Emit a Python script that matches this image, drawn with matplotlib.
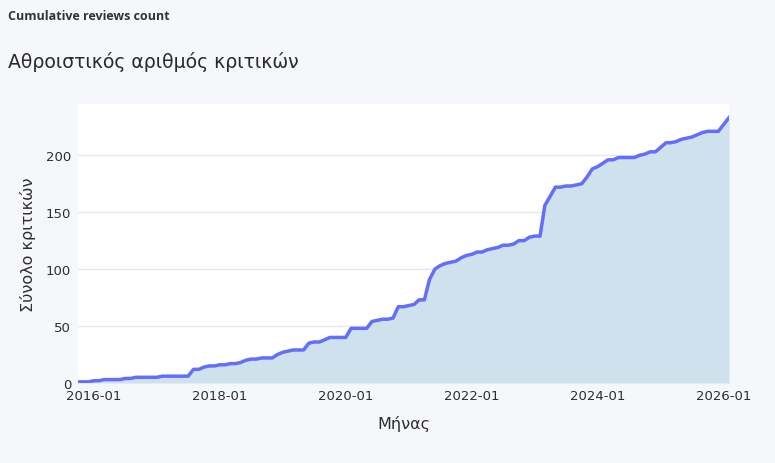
import matplotlib
matplotlib.use("Agg")
import matplotlib.pyplot as plt
import matplotlib.dates as mdates
import numpy as np
import pandas as pd

# monthly cumulative review counts, 2015-10 .. 2026-02
months = pd.date_range("2015-10-01", periods=125, freq="MS")
counts = [
    1, 1, 1, 2, 2, 3, 3, 3, 3, 4,
    4, 5, 5, 5, 5, 5, 6, 6, 6, 6,
    6, 6, 12, 12, 14, 15, 15, 16, 16, 17,
    17, 18, 20, 21, 21, 22, 22, 22, 25, 27,
    28, 29, 29, 29, 35, 36, 36, 38, 40, 40,
    40, 40, 48, 48, 48, 48, 54, 55, 56, 56,
    57, 67, 67, 68, 69, 73, 73, 91, 100, 103,
    105, 106, 107, 110, 112, 113, 115, 115, 117, 118,
    119, 121, 121, 122, 125, 125, 128, 129, 129, 156,
    164, 172, 172, 173, 173, 174, 175, 181, 188, 190,
    193, 196, 196, 198, 198, 198, 198, 200, 201, 203,
    203, 207, 211, 211, 212, 214, 215, 216, 218, 220,
    221, 221, 221, 227, 233,
]
yticks = [0, 50, 100, 150, 200]
xticks = pd.date_range("2016-01-01", "2026-01-01", freq="2YS")

W, H = 775, 464
fig = plt.figure(figsize=(W / 100, H / 100), dpi=100)
fig.patch.set_facecolor("#f6f7fb")

left, right, top, bottom = 78, 729, 105, 384
ax = fig.add_axes([left / W, 1 - bottom / H, (right - left) / W, (bottom - top) / H])
ax.set_facecolor("white")

x = mdates.date2num(months)
ax.fill_between(x, 0, counts, color="#d0e1ee", lw=0)
ax.plot(x, counts, color="#636efa", lw=2.5, solid_joinstyle="round")

ax.set_xlim(x[0], x[-1])
ax.set_ylim(0, 245)
ax.set_yticks(yticks)
ax.set_xticks(mdates.date2num(xticks))
ax.xaxis.set_major_formatter(mdates.DateFormatter("%Y-%m"))
ax.grid(axis="y", color="#e6e8ec", lw=1)
ax.set_axisbelow(True)
for s in ax.spines.values():
    s.set_visible(False)
ax.tick_params(length=0, labelsize=9.5, colors="#2e2e2e")
ax.tick_params(axis="x", pad=4)
ax.tick_params(axis="y", pad=5)

ax.set_xlabel("Μήνας", fontsize=11.5, color="#2e2e2e", labelpad=10)
ax.set_ylabel("Σύνολο κριτικών", fontsize=11.5, color="#2e2e2e", labelpad=7)

fig.text(8 / W, 1 - 17 / H, "Cumulative reviews count", fontsize=9, fontweight="bold",
         color="#333333", va="center", family="Open Sans")
fig.text(8 / W, 1 - 62 / H, "Αθροιστικός αριθμός κριτικών", fontsize=13.6, color="#2a2a2a",
         va="center")

fig.savefig("out.png", dpi=100, facecolor=fig.get_facecolor())
